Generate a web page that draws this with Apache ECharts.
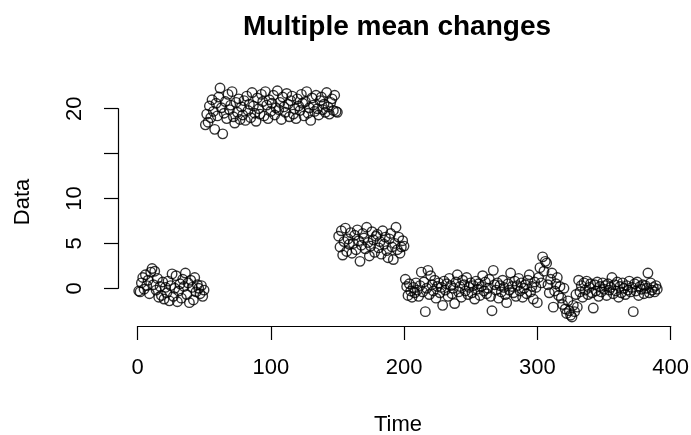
<!DOCTYPE html>
<html>
<head>
<meta charset="utf-8">
<script src="https://cdn.jsdelivr.net/npm/echarts@6/dist/echarts.min.js"></script>
<style>html,body{margin:0;padding:0;background:#fff;}#c{width:691px;height:435px;}</style>
</head>
<body>
<div id="c"></div>
<script>
// Segment values (time index 1..390)
var seg1 = [-0.3,-0.4,0.6,1.2,-0.1,1.5,0.3,0.9,-0.6,1.8,
  2.2,0.4,1.9,-0.2,1.1,-1.0,0.2,-0.8,0.7,-1.2,
  0.1,-0.5,0.8,-1.4,0.3,1.6,-0.9,0.0,1.4,-1.5,
  -0.3,0.5,-1.1,1.0,0.2,1.7,-0.7,0.6,-1.6,0.9,
  0.1,-1.3,1.2,-0.4,0.4,0.0,-0.6,0.3,-0.9,-0.2];
var seg2 = [18.2,19.4,18.5,20.3,19.0,21.0,19.7,17.7,20.6,19.2,
  21.3,22.3,20.1,17.2,19.5,20.8,18.9,21.6,19.9,20.4,
  21.9,19.1,18.4,20.7,19.6,21.1,18.8,20.2,19.3,20.9,
  18.7,21.4,19.8,20.5,19.0,21.8,20.3,19.5,18.6,21.2,
  20.0,19.4,21.6,20.8,19.2,21.9,20.4,18.9,21.0,19.7,
  20.6,21.5,19.3,20.1,22.0,19.9,20.7,18.8,21.3,20.2,
  19.6,21.7,20.5,19.1,20.9,21.4,19.4,20.0,18.9,21.1,
  20.3,19.8,21.6,20.6,19.2,20.8,21.9,19.5,20.1,18.7,
  21.2,20.4,19.7,21.5,20.0,19.3,20.9,21.3,19.9,20.5,
  19.6,21.8,20.2,19.4,20.7,21.1,19.8,21.5,19.7,19.6];
var seg3 = [5.8,4.6,6.4,3.7,5.2,6.7,4.1,5.5,4.9,6.2,
  3.9,5.0,5.9,4.3,6.5,5.3,3.0,4.8,6.1,5.6,
  4.4,6.8,5.1,3.6,4.7,6.3,5.4,4.0,5.8,6.0,
  4.5,5.2,3.8,6.4,4.9,5.7,4.2,3.4,5.5,6.1,
  4.6,3.2,5.0,6.8,4.3,5.7,3.9,4.6,5.3,4.7];
var seg4 = [1.0,0.2,-0.8,0.5,-0.3,-1.0,0.1,-0.5,0.6,-0.2,
  -0.9,0.3,1.8,-0.4,0.7,-2.6,0.0,2.0,-0.7,1.4,
  0.4,-0.3,0.9,-1.1,0.2,0.6,-0.5,0.1,-1.9,0.8,
  -0.2,0.5,-0.9,1.1,0.3,-0.6,0.0,-1.7,0.7,1.5,
  -0.4,0.2,-1.0,0.9,0.4,-0.3,1.2,-0.7,0.1,0.6,
  -0.5,0.3,-1.2,0.8,-0.1,0.5,-0.8,0.2,1.4,-0.3,
  0.7,-0.6,0.0,1.0,-0.9,-2.5,2.0,0.4,-0.2,0.6,
  -1.1,0.3,-0.4,0.9,0.1,-0.7,-1.6,0.5,-0.2,1.7,
  0.2,-0.5,0.8,-0.9,0.3,1.1,-0.3,0.6,-1.0,0.0,
  0.4,-0.6,0.9,1.5,-0.4,0.2,-1.2,0.7,0.1,-1.6,
  1.2,2.3,0.6,3.5,1.9,3.0,2.8,0.4,-0.5,1.0,
  1.7,-2.1,-0.3,0.5,1.2,-0.8,0.2,-1.1,-1.8,0.0,
  -2.3,-2.8,-1.4,-2.5,-3.0,-3.2,-1.9,-2.6,-0.7,-2.1,
  0.9,-0.4,0.3,-1.0,0.6,-0.2,0.8,-0.7,0.1,0.5,
  -0.5,-2.2,0.4,-0.3,0.7,-0.9,0.2,-0.4,0.6,-0.1,
  0.3,-0.8,0.5,-0.2,0.1,1.2,-0.6,0.4,-0.3,0.7,
  -1.0,0.2,-0.5,0.6,0.0,-0.7,0.3,-0.2,0.8,-0.4,
  0.1,-2.6,0.5,-0.3,0.7,-0.8,0.2,-0.1,0.4,-0.6,
  0.3,0.0,1.7,-0.5,0.6,-0.2,0.1,-0.4,0.3,-0.1];
var xTicks = [0, 100, 200, 300, 400];
var yTicks = [0, 5, 10, 15, 20];
var titleText = 'Multiple mean changes';
var xName = 'Time';
var yName = 'Data';

var values = seg1.concat(seg2, seg3, seg4);
var points = values.map(function (v, i) { return [i + 1, v]; });

var FONT = '"Liberation Sans", Arial, sans-serif';
var chart = echarts.init(document.getElementById('c'), null, {renderer: 'canvas'});
chart.setOption({
  backgroundColor: '#ffffff',
  animation: false,
  title: {
    text: titleText, left: 397, top: 13, textAlign: 'center', padding: 0,
    textStyle: {fontFamily: FONT, fontWeight: 'bold', fontSize: 28, color: '#000'}
  },
  grid: [
    {left: 118, right: 13, top: 78, bottom: 109, outerBoundsMode: 'none', containLabel: false},
    {left: 137.7, right: 20.3, top: 78, bottom: 109, outerBoundsMode: 'none', containLabel: false},
    {left: 118, right: 13, top: 108.7, bottom: 146.7, outerBoundsMode: 'none', containLabel: false}
  ],
  xAxis: [
    {gridIndex: 0, type: 'value', min: -14.56, max: 405.56,
     name: xName, nameLocation: 'middle', nameGap: 88,
     nameTextStyle: {fontFamily: FONT, fontSize: 22, color: '#000'},
     axisLine: {show: false}, axisTick: {show: false}, axisLabel: {show: false}, splitLine: {show: false}},
    {gridIndex: 1, type: 'value', min: xTicks[0], max: xTicks[xTicks.length - 1], interval: 100,
     axisLine: {show: true, lineStyle: {color: '#000', width: 1.2}},
     axisTick: {show: true, length: 14, lineStyle: {color: '#000', width: 1.2}},
     axisLabel: {fontFamily: FONT, fontSize: 22, color: '#000', margin: 31},
     splitLine: {show: false}},
    {gridIndex: 2, type: 'value', show: false, min: 0, max: 1}
  ],
  yAxis: [
    {gridIndex: 0, type: 'value', min: -4.2, max: 23.42,
     name: yName, nameLocation: 'middle', nameGap: 84,
     nameTextStyle: {fontFamily: FONT, fontSize: 22, color: '#000'},
     axisLine: {show: false}, axisTick: {show: false}, axisLabel: {show: false}, splitLine: {show: false}},
    {gridIndex: 1, type: 'value', show: false, min: 0, max: 1},
    {gridIndex: 2, type: 'value', min: yTicks[0], max: yTicks[yTicks.length - 1], interval: 5,
     axisLine: {show: true, lineStyle: {color: '#000', width: 1.2}},
     axisTick: {show: true, length: 14, lineStyle: {color: '#000', width: 1.2}},
     axisLabel: {fontFamily: FONT, fontSize: 22, color: '#000', margin: 32, rotate: 90,
       formatter: function (v) { return v === 15 ? '' : String(v); }},
     splitLine: {show: false}}
  ],
  series: [{
    type: 'scatter', xAxisIndex: 0, yAxisIndex: 0,
    data: points, symbol: 'circle', symbolSize: 9.5,
    itemStyle: {color: 'rgba(0,0,0,0)', borderColor: '#000', borderWidth: 1.4},
    emphasis: {disabled: true}
  }]
});
</script>
</body>
</html>
